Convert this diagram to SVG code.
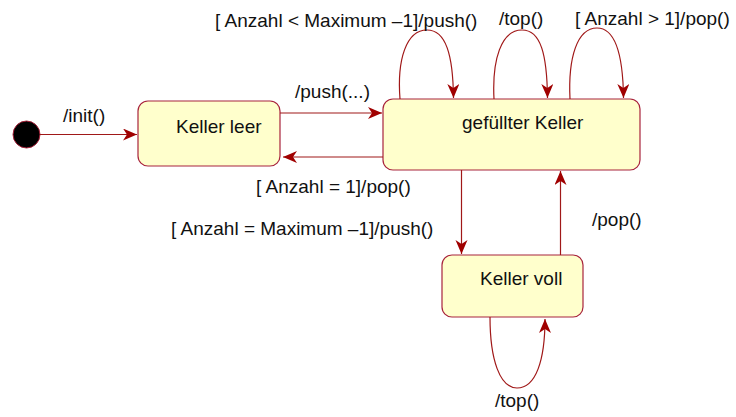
<svg xmlns="http://www.w3.org/2000/svg" width="736" height="417" viewBox="0 0 736 417">
<style>
.state{fill:#FFFFCC;stroke:#A8243C;stroke-width:1.2}
.edge{fill:none;stroke:#A01818;stroke-width:1.2}
text{font-family:"Liberation Sans",Arial,sans-serif;font-size:19px;fill:#111}
</style>
<defs>
<marker id="arr" markerUnits="userSpaceOnUse" markerWidth="16" markerHeight="14" refX="14" refY="6" orient="auto" viewBox="0 0 16 14">
<path d="M0,0 L14,6 L0,12 L4,6 z" fill="#A00000"/>
</marker>
</defs>
<rect width="736" height="417" fill="#fff"/>
<g id="start">
<circle cx="26.5" cy="134.5" r="13.5" fill="#000" stroke="#A8243C" stroke-width="1"/>
</g>
<g id="keller-leer">
<rect class="state" x="138" y="101" width="142" height="65" rx="10"/>
<text x="176" y="133">Keller leer</text>
</g>
<g id="gefuellter-keller">
<rect class="state" x="383" y="99" width="257" height="71" rx="10"/>
<text x="462" y="129">gefüllter Keller</text>
</g>
<g id="keller-voll">
<rect class="state" x="442" y="255" width="141" height="62" rx="10"/>
<text x="480" y="285">Keller voll</text>
</g>
<g id="connectors">
<path class="edge" d="M40,134.5 L137,134.5" marker-end="url(#arr)"/>
<path class="edge" d="M280,113 L382,113" marker-end="url(#arr)"/>
<path class="edge" d="M383,157 L283,157" marker-end="url(#arr)"/>
<path class="edge" d="M461.5,170 L461.5,254" marker-end="url(#arr)"/>
<path class="edge" d="M560.5,255 L560.5,171" marker-end="url(#arr)"/>
<path class="edge" d="M400,99 C397,60 406,30 427,30 C446,30 453,55 453.5,98" marker-end="url(#arr)"/>
<path class="edge" d="M494,99 C492,60 501,30 522,30 C541,30 547,55 547.5,98" marker-end="url(#arr)"/>
<path class="edge" d="M570,99 C568,58 577,28 597,28 C616,28 623,55 623.5,98" marker-end="url(#arr)"/>
<path class="edge" d="M490,317 C490,360 500,388 517,388 C536,388 545,360 545,319" marker-end="url(#arr)"/>
<text x="63" y="122">/init()</text>
<text x="295" y="98">/push(...)</text>
<text x="256" y="193">[ Anzahl = 1]/pop()</text>
<text x="171" y="235">[ Anzahl = Maximum –1]/push()</text>
<text x="592" y="226">/pop()</text>
<text x="215" y="27">[ Anzahl &lt; Maximum –1]/push()</text>
<text x="499" y="25">/top()</text>
<text x="575" y="25">[ Anzahl &gt; 1]/pop()</text>
<text x="495" y="407">/top()</text>
</g>
</svg>
